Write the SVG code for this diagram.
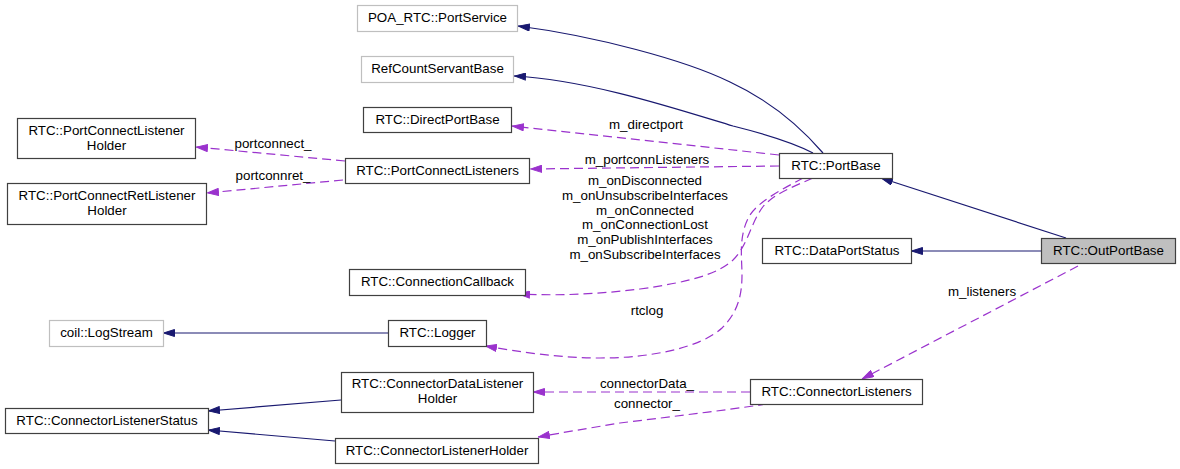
<svg xmlns="http://www.w3.org/2000/svg" width="1180" height="469" viewBox="0 0 1180 469">
<style>
text{font-family:"Liberation Sans",Arial,sans-serif;font-size:13.33px;fill:#000;text-anchor:middle}
.nb{fill:#fff;stroke:#404040;stroke-width:1.2}
.ng{fill:#fff;stroke:#bfbfbf;stroke-width:1.2}
.nc{fill:#bfbfbf;stroke:#404040;stroke-width:1.2}
.inh{fill:none;stroke:#191970;stroke-width:1.2;marker-end:url(#an)}
.use{fill:none;stroke:#9a32cd;stroke-width:1.2;stroke-dasharray:9,5;marker-end:url(#ap)}
</style>
<defs>
<marker id="an" viewBox="0 0 12 8" refX="12" refY="4" markerWidth="12" markerHeight="8" markerUnits="userSpaceOnUse" orient="auto"><path d="M0.5,0.5 L11.5,4 L0.5,7.5 z" fill="#191970" stroke="#191970" stroke-width="1"/></marker>
<marker id="ap" viewBox="0 0 12 8" refX="12" refY="4" markerWidth="12" markerHeight="8" markerUnits="userSpaceOnUse" orient="auto"><path d="M0.5,0.5 L11.5,4 L0.5,7.5 z" fill="#9a32cd" stroke="#9a32cd" stroke-width="1"/></marker>
</defs>
<rect width="1180" height="469" fill="#fff"/>
<g id="connectors">
<path class="inh" d="M823,153 C805,132 775,103 730,82 C685,60 595,36 518,26"/>
<path class="inh" d="M813,153 C792,142 765,134 733,126 C680,110 590,80 514,76"/>
<path class="use" d="M779,155 L512,126"/>
<text x="646" y="129">m_directport</text>
<path class="use" d="M779,166 L530,169"/>
<text x="647" y="164">m_portconnListeners</text>
<path class="use" d="M345,161 L196,147"/>
<text x="273" y="148">portconnect_</text>
<path class="use" d="M343,180 L207,193"/>
<text x="273" y="180">portconnret_</text>
<path class="use" d="M813,178 C790,188 772,195 762,208 C750,225 748,245 733,260 C718,274 690,282 640,289 C600,294 560,296 518,294"/>
<text x="645" y="185">m_onDisconnected</text>
<text x="645" y="200">m_onUnsubscribeInterfaces</text>
<text x="645" y="215">m_onConnected</text>
<text x="645" y="229">m_onConnectionLost</text>
<text x="645" y="244">m_onPublishInterfaces</text>
<text x="645" y="259">m_onSubscribeInterfaces</text>
<path class="use" d="M803,178 C785,188 760,200 750,215 C738,235 742,258 742,275 C742,295 738,312 722,328 C700,348 650,358 600,358 C560,358 520,352 485,346"/>
<text x="647" y="315">rtclog</text>
<path class="inh" d="M1066,238 L881,178"/>
<path class="inh" d="M1041,251 L911,251"/>
<path class="use" d="M1078,266 L862,379"/>
<text x="982" y="296">m_listeners</text>
<path class="inh" d="M388,333 L163,333"/>
<path class="inh" d="M341,400 L208,411"/>
<path class="inh" d="M335,441 L208,430"/>
<path class="use" d="M750,392 L533,392"/>
<text x="647" y="388">connectorData_</text>
<path class="use" d="M767,404 C720,411 660,418 620,423 C590,428 560,433 538,437"/>
<text x="647" y="408">connector_</text>
</g>
<g id="n_portservice"><rect class="ng" x="357.5" y="5.5" width="160" height="26"/><text x="437.5" y="22">POA_RTC::PortService</text></g>
<g id="n_refcount"><rect class="ng" x="361.5" y="56.5" width="152" height="26"/><text x="437.5" y="73">RefCountServantBase</text></g>
<g id="n_directport"><rect class="nb" x="363.5" y="107.5" width="148" height="25"/><text x="437.5" y="124">RTC::DirectPortBase</text></g>
<g id="n_pclholder"><rect class="nb" x="17.5" y="118.5" width="178" height="40"/><text x="106.5" y="135">RTC::PortConnectListener</text><text x="106.5" y="150">Holder</text></g>
<g id="n_pclisteners"><rect class="nb" x="345.5" y="158.5" width="184" height="25"/><text x="437.5" y="175">RTC::PortConnectListeners</text></g>
<g id="n_pcretholder"><rect class="nb" x="7.5" y="183.5" width="199" height="41"/><text x="107" y="200">RTC::PortConnectRetListener</text><text x="107" y="215">Holder</text></g>
<g id="n_portbase"><rect class="nb" x="779.5" y="153.5" width="113" height="25"/><text x="836" y="170">RTC::PortBase</text></g>
<g id="n_dataportstatus"><rect class="nb" x="762.5" y="238.5" width="149" height="25"/><text x="837" y="255">RTC::DataPortStatus</text></g>
<g id="n_outportbase"><rect class="nc" x="1041.5" y="238.5" width="134" height="25"/><text x="1108.5" y="255">RTC::OutPortBase</text></g>
<g id="n_conncallback"><rect class="nb" x="349.5" y="269.5" width="176" height="26"/><text x="437.5" y="286">RTC::ConnectionCallback</text></g>
<g id="n_logstream"><rect class="ng" x="49.5" y="320.5" width="114" height="26"/><text x="106.5" y="337">coil::LogStream</text></g>
<g id="n_logger"><rect class="nb" x="388.5" y="320.5" width="98" height="26"/><text x="437.5" y="337">RTC::Logger</text></g>
<g id="n_cdlholder"><rect class="nb" x="341.5" y="372.5" width="192" height="40"/><text x="437.5" y="388">RTC::ConnectorDataListener</text><text x="437.5" y="403">Holder</text></g>
<g id="n_clstatus"><rect class="nb" x="5.5" y="408.5" width="203" height="25"/><text x="107" y="425">RTC::ConnectorListenerStatus</text></g>
<g id="n_clholder"><rect class="nb" x="335.5" y="438.5" width="203" height="25"/><text x="437" y="455">RTC::ConnectorListenerHolder</text></g>
<g id="n_connlisteners"><rect class="nb" x="750.5" y="379.5" width="172" height="25"/><text x="836.5" y="396">RTC::ConnectorListeners</text></g>
</svg>
